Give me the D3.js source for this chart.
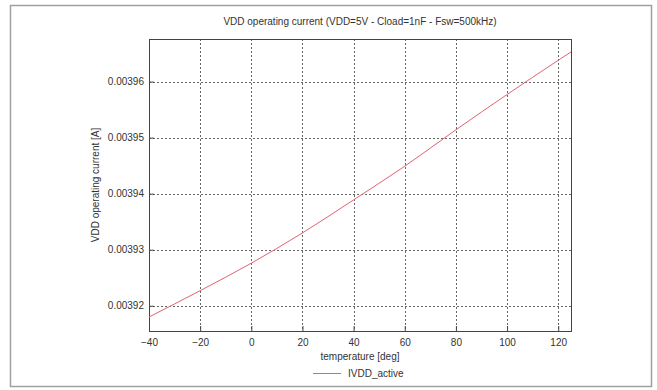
<!DOCTYPE html>
<html>
<head>
<meta charset="utf-8">
<script src="https://cdn.jsdelivr.net/npm/d3@7"></script>
<style>
  body { margin: 0; background: #fff; }
  text { font-family: "Liberation Sans", Arial, sans-serif; fill: #333; }
</style>
</head>
<body>
<svg id="chart"></svg>
<script>
// values
const temperatures = [-40, -20, 0, 20, 40, 60, 80, 100, 120, 125];
const ivddActive = [0.0039180, 0.0039227, 0.0039276, 0.0039330, 0.0039389,
                    0.0039449, 0.0039514, 0.0039577, 0.0039638, 0.0039653];
const xTicks = [-40, -20, 0, 20, 40, 60, 80, 100, 120];
const yTicks = [0.00392, 0.00393, 0.00394, 0.00395, 0.00396];
const xDomain = [-40, 125];
const yDomain = [0.0039155, 0.0039676];
const seriesName = 'IVDD_active';

const W = 657, H = 390;
const margin = { top: 39, right: 86, bottom: 59, left: 149 };
const width = W - margin.left - margin.right;
const height = H - margin.top - margin.bottom;

const svg = d3.select('#chart')
  .attr('width', W)
  .attr('height', H);

// outer frame
svg.append('rect')
  .attr('x', 10.5).attr('y', 5.5)
  .attr('width', 641).attr('height', 381)
  .attr('fill', 'none')
  .attr('stroke', '#a0a0a0')
  .attr('stroke-width', 1.5);

const g = svg.append('g')
  .attr('transform', `translate(${margin.left},${margin.top})`);

const x = d3.scaleLinear().domain(xDomain).range([0, width]);
const y = d3.scaleLinear().domain(yDomain).range([height, 0]);

// grid
g.append('g')
  .selectAll('line')
  .data(xTicks)
  .enter()
  .append('line')
  .attr('x1', d => Math.round(x(d)) + 0.5)
  .attr('x2', d => Math.round(x(d)) + 0.5)
  .attr('y1', 0).attr('y2', height)
  .attr('stroke', '#666')
  .attr('stroke-dasharray', '2,2');

g.append('g')
  .selectAll('line')
  .data(yTicks)
  .enter()
  .append('line')
  .attr('y1', d => Math.round(y(d)) + 0.5)
  .attr('y2', d => Math.round(y(d)) + 0.5)
  .attr('x1', 0).attr('x2', width)
  .attr('stroke', '#666')
  .attr('stroke-dasharray', '2,2');

// axes (ticks point inward)
const xAxis = g.append('g')
  .attr('transform', `translate(0,${height})`)
  .call(d3.axisBottom(x).tickValues(xTicks).tickSize(-5).tickPadding(8).tickFormat(d3.format('d')));

const yAxis = g.append('g')
  .call(d3.axisLeft(y).tickValues(yTicks).tickSize(-5).tickPadding(5).tickFormat(d3.format('.5f')));

[xAxis, yAxis].forEach(a => {
  a.select('.domain').remove();
  a.selectAll('line').attr('stroke', '#444');
  a.selectAll('text').style('font-size', '10px').attr('fill', '#333');
});

// plot border
g.append('rect')
  .attr('x', 0.5).attr('y', 0.5)
  .attr('width', width).attr('height', height)
  .attr('fill', 'none')
  .attr('stroke', '#444');

// data line
const line = d3.line()
  .x((d, i) => x(temperatures[i]))
  .y(d => y(d))
  .curve(d3.curveMonotoneX);

g.append('path')
  .datum(ivddActive)
  .attr('fill', 'none')
  .attr('stroke', '#e06473')
  .attr('stroke-width', 1)
  .attr('d', line);

// title and axis labels
svg.append('text')
  .attr('x', margin.left + width / 2)
  .attr('y', 25)
  .attr('text-anchor', 'middle')
  .style('font-size', '10px')
  .text('VDD operating current (VDD=5V - Cload=1nF - Fsw=500kHz)');

svg.append('text')
  .attr('x', margin.left + width / 2)
  .attr('y', 360)
  .attr('text-anchor', 'middle')
  .style('font-size', '10px')
  .text('temperature [deg]');

svg.append('text')
  .attr('transform', `translate(99,${margin.top + height / 2}) rotate(-90)`)
  .attr('text-anchor', 'middle')
  .style('font-size', '10px')
  .text('VDD operating current [A]');

// legend
const legend = svg.append('g')
  .attr('transform', 'translate(313,373)');

legend.append('line')
  .attr('x1', 0).attr('x2', 28)
  .attr('y1', 0.5).attr('y2', 0.5)
  .attr('stroke', '#e06473');

legend.append('text')
  .attr('x', 35)
  .attr('y', 4)
  .style('font-size', '10px')
  .text(seriesName);
</script>
</body>
</html>
